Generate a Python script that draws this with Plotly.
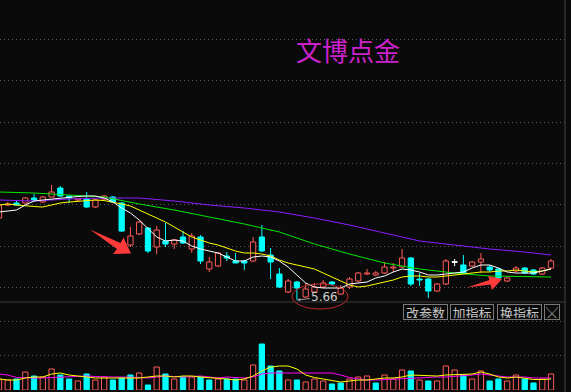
import plotly.graph_objects as go

# ---------------- data ----------------
opens = [6.48, 6.61, 6.63, 6.63, 6.68, 6.64, 6.69, 6.78, 6.70, 6.66,
         6.67, 6.59, 6.67, 6.69, 6.63, 6.21, 6.32, 6.38, 6.19, 6.25,
         6.22, 6.29, 6.17, 6.29, 5.97, 6.00, 6.10, 6.05, 6.05, 6.05,
         6.29, 6.11, 5.92, 5.74, 5.84, 5.69, 5.74, 5.79, 5.84, 5.72,
         5.79, 5.85, 5.92, 5.91, 5.93, 5.98, 5.99, 6.08, 5.87, 5.87,
         5.75, 5.82, 6.04, 6.01, 6.00, 6.04, 5.99, 5.97, 5.85, 5.95,
         5.98, 5.96, 5.92, 5.98]
highs = [6.63, 6.64, 6.65, 6.69, 6.72, 6.70, 6.81, 6.80, 6.70, 6.68,
         6.74, 6.67, 6.71, 6.70, 6.64, 6.39, 6.45, 6.39, 6.40, 6.43,
         6.27, 6.35, 6.33, 6.31, 6.09, 6.14, 6.14, 6.13, 6.06, 6.29,
         6.41, 6.18, 5.98, 5.87, 5.85, 5.83, 5.83, 5.86, 5.85, 5.81,
         5.89, 5.94, 5.97, 5.95, 6.04, 6.03, 6.17, 6.09, 5.93, 5.88,
         5.83, 6.07, 6.07, 6.11, 6.05, 6.13, 6.01, 5.98, 5.89, 6.00,
         5.99, 5.97, 5.99, 6.07]
lows = [6.46, 6.60, 6.61, 6.62, 6.64, 6.63, 6.69, 6.69, 6.63, 6.65,
        6.58, 6.58, 6.66, 6.64, 6.34, 6.19, 6.31, 6.13, 6.12, 6.19,
        6.17, 6.22, 6.13, 6.02, 5.94, 5.99, 6.05, 6.03, 5.96, 6.04,
        6.14, 5.87, 5.78, 5.73, 5.66, 5.68, 5.73, 5.78, 5.81, 5.71,
        5.77, 5.84, 5.91, 5.90, 5.92, 5.94, 5.98, 5.80, 5.80, 5.68,
        5.74, 5.81, 6.00, 5.92, 5.99, 5.93, 5.94, 5.87, 5.84, 5.94,
        5.92, 5.91, 5.91, 5.97]
closes = [6.61, 6.62, 6.61, 6.68, 6.66, 6.69, 6.74, 6.70, 6.68, 6.67,
          6.59, 6.66, 6.70, 6.64, 6.35, 6.30, 6.44, 6.15, 6.36, 6.22,
          6.26, 6.23, 6.30, 6.05, 6.04, 6.13, 6.08, 6.03, 6.03, 6.24,
          6.15, 6.04, 5.79, 5.85, 5.78, 5.77, 5.79, 5.83, 5.82, 5.78,
          5.87, 5.93, 5.93, 5.93, 5.99, 5.99, 6.08, 5.82, 5.86, 5.75,
          5.82, 6.05, 6.04, 5.93, 6.04, 6.07, 5.96, 5.88, 5.88, 5.98,
          5.93, 5.92, 5.98, 6.05]

ma_white = [6.54, 6.55, 6.56, 6.61, 6.65, 6.66, 6.67, 6.68, 6.69, 6.695,
            6.70, 6.70, 6.68, 6.64, 6.58, 6.53, 6.46, 6.37, 6.29, 6.25,
            6.26, 6.25, 6.20, 6.17, 6.15, 6.13, 6.09, 6.05, 6.05, 6.09,
            6.10, 6.09, 6.05, 5.99, 5.91, 5.83, 5.79, 5.78, 5.78, 5.78,
            5.82, 5.83, 5.84, 5.88, 5.90, 5.94, 5.97, 5.96, 5.94, 5.91,
            5.91, 5.92, 5.93, 5.94, 5.98, 6.01, 6.01, 5.98, 5.94, 5.93,
            5.93, 5.93, 5.95, 5.97]
ma_yellow = [6.61, 6.62, 6.61, 6.60, 6.595, 6.59, 6.61, 6.63, 6.64, 6.645,
             6.65, 6.66, 6.655, 6.64, 6.62, 6.60, 6.56, 6.52, 6.48, 6.44,
             6.39, 6.34, 6.29, 6.26, 6.23, 6.21, 6.18, 6.15, 6.13, 6.13,
             6.12, 6.10, 6.06, 6.03, 6.01, 5.99, 5.97, 5.93, 5.89, 5.85,
             5.81, 5.79, 5.80, 5.82, 5.84, 5.86, 5.89, 5.90, 5.90, 5.89,
             5.89, 5.90, 5.91, 5.92, 5.93, 5.94, 5.94, 5.95, 5.95, 5.96,
             5.95, 5.94, 5.95, 5.97]
slow_idx = [0, 4, 8, 12, 16, 20, 24, 28, 32, 36, 40, 44, 48, 52, 56, 60, 63]
ma_green = [6.74, 6.73, 6.71, 6.69, 6.62, 6.56, 6.49, 6.42, 6.34, 6.22,
            6.12, 6.03, 5.97, 5.93, 5.90, 5.89, 5.89]
ma_purple = [6.66, 6.65, 6.67, 6.68, 6.68, 6.65, 6.61, 6.58, 6.54, 6.48,
             6.41, 6.33, 6.25, 6.21, 6.17, 6.14, 6.11]

volume = [11, 10, 11, 18, 14, 13, 21, 15, 11, 9,
          16, 10, 13, 10, 12, 15, 17, 5, 23, 16,
          11, 13, 13, 13, 10, 11, 11, 11, 10, 25,
          46, 24, 19, 10, 10, 8, 11, 9, 6, 7,
          11, 13, 14, 7, 15, 11, 20, 19, 10, 9,
          9, 24, 20, 15, 11, 19, 9, 11, 9, 15,
          11, 7, 11, 16]
vol_up = [1, 1, 0, 1, 0, 1, 1, 0, 0, 1,
          0, 1, 1, 0, 0, 0, 1, 0, 1, 0,
          1, 0, 1, 0, 0, 1, 0, 0, 1, 1,
          0, 0, 0, 1, 0, 1, 1, 1, 0, 0,
          1, 1, 1, 0, 1, 1, 1, 0, 1, 0,
          1, 1, 1, 0, 1, 1, 0, 0, 1, 1,
          0, 0, 1, 1]
vol_ma5 = [11, 10, 10, 12, 13, 13, 16, 17, 15, 14,
           13, 12, 12, 12, 12, 12, 12, 13, 14, 14,
           13, 14, 14, 13, 12.5, 12, 11, 10, 11, 14,
           19, 23, 24, 24, 21, 15, 12.5, 11, 9.5, 8,
           9, 10, 10, 11, 12, 12, 13, 15, 14.5, 14,
           14, 15, 15.5, 16, 16, 18, 16, 13, 12, 13,
           11.5, 10.5, 10.5, 11]
vol_ma10 = [16, 15, 12.5, 12, 12, 12, 12.5, 13, 13, 13.5,
            14, 13.5, 13, 13, 13, 13, 12.5, 12, 13, 14,
            13.5, 13, 13.5, 14, 13, 12, 13, 12.5, 12, 13,
            16, 17, 17, 17, 17, 17, 17, 17, 17, 15,
            12.5, 11, 10, 10, 10.5, 11, 11.5, 12, 12.5, 13,
            13, 13, 13.5, 14, 15, 16, 15, 13.5, 13, 13,
            13, 12, 12, 12]

low_label = "5.66"
title_text = "文博点金"
buttons = ["改参数", "加指标", "换指标", "╳"]

# ---------------- styling ----------------
BG = "#0a0a0a"
RED = "#ff5a5a"
CYAN = "#00ffff"
GRID = "#5c5c5c"
ARROW_RED = "#ff3a3a"
PW, PH = 565, 390  # plot area in px


def px(x):
    return x / PW


def py(y):
    return 1 - y / PH


xs = list(range(len(opens)))
MINH = 0.007

groups = {"up": dict(x=[], b=[], h=[]), "down": dict(x=[], b=[], h=[]), "flat": dict(x=[], b=[], h=[])}
wicks = {"up": ([], []), "down": ([], []), "flat": ([], [])}
for i, (o, h, l, c) in enumerate(zip(opens, highs, lows, closes)):
    g = "up" if c > o else ("down" if c < o else "flat")
    top, bot = max(o, c), min(o, c)
    hh = top - bot
    if hh < MINH:
        mid = (top + bot) / 2
        bb, hh = mid - MINH / 2, MINH
    else:
        bb = bot
    groups[g]["x"].append(i)
    groups[g]["b"].append(bb)
    groups[g]["h"].append(hh)
    wx, wy = wicks[g]
    if h > top:
        wx += [i, i, None]
        wy += [h, top, None]
    if l < bot:
        wx += [i, i, None]
        wy += [bot, l, None]

fig = go.Figure()
colors = {"up": RED, "down": CYAN, "flat": "#ffffff"}
for g in ["up", "down", "flat"]:
    wx, wy = wicks[g]
    fig.add_trace(go.Scatter(x=wx, y=wy, mode="lines", line=dict(color=colors[g], width=1),
                             hoverinfo="skip", xaxis="x", yaxis="y"))
for g in ["up", "down", "flat"]:
    d = groups[g]
    fill = BG if g == "up" else colors[g]
    fig.add_trace(go.Bar(x=d["x"], y=d["h"], base=d["b"], width=0.6,
                         marker=dict(color=fill, line=dict(color=colors[g], width=1)),
                         xaxis="x", yaxis="y", hoverinfo="skip"))

fig.add_trace(go.Scatter(x=slow_idx, y=ma_purple, mode="lines", line=dict(color="#8c1cff", width=1), xaxis="x", yaxis="y"))
fig.add_trace(go.Scatter(x=slow_idx, y=ma_green, mode="lines", line=dict(color="#00e600", width=1), xaxis="x", yaxis="y"))
fig.add_trace(go.Scatter(x=xs, y=ma_yellow, mode="lines", line=dict(color="#ffff00", width=1), xaxis="x", yaxis="y"))
fig.add_trace(go.Scatter(x=xs, y=ma_white, mode="lines", line=dict(color="#ffffff", width=1), xaxis="x", yaxis="y"))

# volume
vx_up = [i for i in xs if vol_up[i]]
vx_dn = [i for i in xs if not vol_up[i]]
fig.add_trace(go.Bar(x=vx_up, y=[volume[i] for i in vx_up], width=0.6,
                     marker=dict(color=BG, line=dict(color=RED, width=1)), xaxis="x2", yaxis="y2"))
fig.add_trace(go.Bar(x=vx_dn, y=[volume[i] for i in vx_dn], width=0.6,
                     marker=dict(color=CYAN, line=dict(color=CYAN, width=1)), xaxis="x2", yaxis="y2"))
fig.add_trace(go.Scatter(x=xs, y=vol_ma10, mode="lines", line=dict(color="#ff00ff", width=1), xaxis="x2", yaxis="y2"))
fig.add_trace(go.Scatter(x=xs, y=vol_ma5, mode="lines", line=dict(color="#ffff00", width=1), xaxis="x2", yaxis="y2"))

xr = [1 / 8.762, 566 / 8.762]
main_dom = [88 / 390, 1]
vol_dom = [0, 88 / 390]

axis_common = dict(showticklabels=False, ticks="", zeroline=False, showline=False)
fig.update_layout(
    width=571, height=392,
    margin=dict(l=0, r=6, t=0, b=2, pad=0),
    paper_bgcolor=BG, plot_bgcolor=BG,
    showlegend=False, barmode="overlay", hovermode=False,
    xaxis=dict(domain=[0, 1], range=xr, showgrid=False, anchor="y", **axis_common),
    yaxis=dict(domain=main_dom, range=[5.64, 8.66],
               tickvals=[5.787, 6.20, 6.613, 7.026, 7.439, 7.852, 8.265],
               showgrid=True, gridcolor=GRID, gridwidth=1, griddash="1px,3px", anchor="x", **axis_common),
    xaxis2=dict(domain=[0, 1], range=xr, showgrid=False, anchor="y2", **axis_common),
    yaxis2=dict(domain=vol_dom, range=[0, 88], tickvals=[34.7, 68.7],
                showgrid=True, gridcolor=GRID, gridwidth=1, griddash="1px,3px", anchor="x2", **axis_common),
)

shapes = []
# panel separator and right border
shapes.append(dict(type="line", xref="paper", yref="paper", x0=0, x1=1, y0=py(302), y1=py(302),
                   line=dict(color="#3a3a3a", width=1)))
shapes.append(dict(type="line", xref="paper", yref="paper", x0=1, x1=1, y0=py(392), y1=py(0),
                   line=dict(color="#444444", width=1)))


def poly(pts):
    s = "M " + " L ".join(f"{px(a):.5f},{py(b):.5f}" for a, b in pts) + " Z"
    return s


shapes.append(dict(type="path", xref="paper", yref="paper",
                   path=poly([(90, 229.5), (120.5, 243), (123.5, 237.5), (131, 253.5), (113, 254), (117, 249)]),
                   fillcolor=ARROW_RED, line=dict(color=ARROW_RED, width=0)))
shapes.append(dict(type="path", xref="paper", yref="paper",
                   path=poly([(467, 287.5), (489.5, 280), (488, 276), (502, 279), (492, 290), (490.5, 284.5)]),
                   fillcolor=ARROW_RED, line=dict(color=ARROW_RED, width=0)))
shapes.append(dict(type="circle", xref="paper", yref="paper",
                   x0=px(292), x1=px(348), y0=py(309), y1=py(284),
                   line=dict(color="#c02a2a", width=1)))
fig.update_layout(shapes=shapes)

ann = []
ann.append(dict(text=title_text, xref="paper", yref="paper", x=px(347.5), y=py(49.5),
                xanchor="center", yanchor="middle", showarrow=False,
                font=dict(family="Noto Sans CJK SC", size=26, color="#cc22cc")))
ann.append(dict(text=low_label, xref="x", yref="y", x=34, y=5.66, ax=28, ay=-3,
                showarrow=True, arrowhead=2, arrowsize=0.7, arrowwidth=1, arrowcolor="#9a9a9a",
                standoff=0, font=dict(family="DejaVu Sans", size=12, color="#d0d0d0")))
btn_centers = [425.5, 472, 519.5, 552]
btn_widths = [41, 40, 41, 12]
for t, cx, w in zip(buttons, btn_centers, btn_widths):
    ann.append(dict(text=t, xref="paper", yref="paper", x=px(cx), y=py(311.5),
                    xanchor="center", yanchor="middle", showarrow=False,
                    width=w, height=12, borderpad=1, borderwidth=1,
                    bordercolor="#7a7a7a", bgcolor=BG,
                    font=dict(family="Noto Sans CJK SC", size=13, color="#c4c4c4")))
fig.update_layout(annotations=ann)

fig.write_html("out.html", config={"displayModeBar": False},
               post_script="document.body.style.margin='0';document.body.style.background='#0a0a0a';")
